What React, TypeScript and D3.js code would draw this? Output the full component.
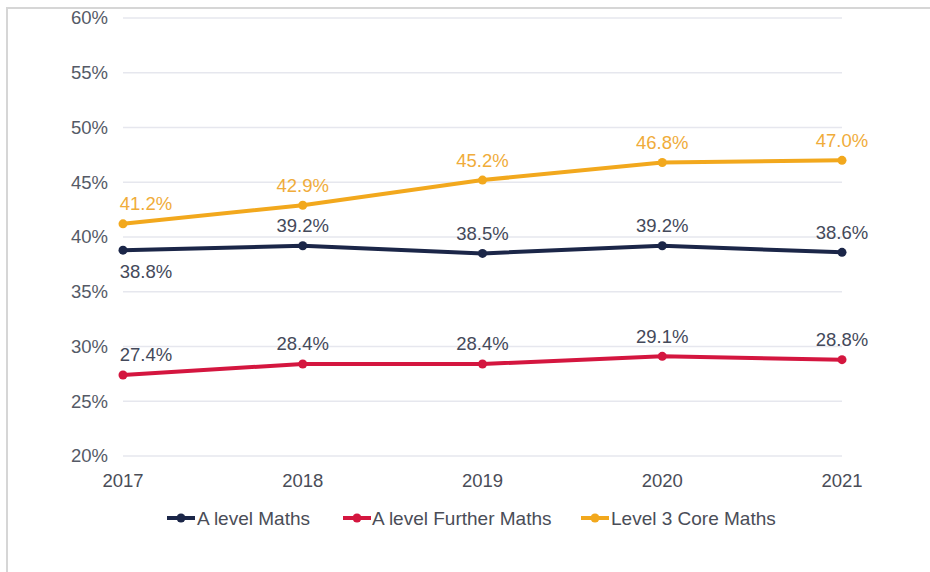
import React from "react";
import * as d3 from "d3";

const years = ["2017", "2018", "2019", "2020", "2021"];
const aLevelMaths = [38.8, 39.2, 38.5, 39.2, 38.6];
const furtherMaths = [27.4, 28.4, 28.4, 29.1, 28.8];
const coreMaths = [41.2, 42.9, 45.2, 46.8, 47.0];
const yTicks = [20, 25, 30, 35, 40, 45, 50, 55, 60];

const W = 930;
const H = 572;
const FONT = "'Liberation Sans', Arial, sans-serif";
const FS = 18.5;
const LFS = 19;

type Series = {
  name: string;
  values: number[];
  color: string;
  labelColor: string;
  below: boolean[];
};

const series: Series[] = [
  { name: "A level Maths", values: aLevelMaths, color: "#1b2648", labelColor: "#44495a", below: [true, false, false, false, false] },
  { name: "A level Further Maths", values: furtherMaths, color: "#d4163f", labelColor: "#44495a", below: [false, false, false, false, false] },
  { name: "Level 3 Core Maths", values: coreMaths, color: "#f2a81d", labelColor: "#f0ac3a", below: [false, false, false, false, false] },
];

export default function App() {
  const x = d3.scalePoint<string>().domain(years).range([123, 842]);
  const y = d3.scaleLinear().domain([20, 60]).range([456, 18]);
  const line = d3
    .line<number>()
    .x((_, i) => x(years[i]) as number)
    .y((d) => y(d));

  const legendItems = [
    { s: series[0], mx: 167, tx: 197 },
    { s: series[1], mx: 343, tx: 372 },
    { s: series[2], mx: 581, tx: 611 },
  ];

  return (
    <div style={{ position: "fixed", left: 0, top: 0 }}>
      <svg width={W} height={H} style={{ display: "block", background: "#fff" }}>
        <rect x={7} y={8} width={1000} height={1000} fill="#fff" stroke="#d6d6d6" strokeWidth={2} />
        {yTicks.map((t) => (
          <g key={t}>
            <line x1={123} x2={842} y1={y(t)} y2={y(t)} stroke="#e6e7ee" strokeWidth={1.5} />
            <text x={108} y={y(t)} dy="0.35em" textAnchor="end" fontFamily={FONT} fontSize={FS} fill="#555a66">
              {t}%
            </text>
          </g>
        ))}
        {years.map((yr) => (
          <text key={yr} x={x(yr)} y={481} dy="0.35em" textAnchor="middle" fontFamily={FONT} fontSize={FS} fill="#4a4d57">
            {yr}
          </text>
        ))}
        {series.map((s) => (
          <g key={s.name}>
            <path d={line(s.values) || ""} fill="none" stroke={s.color} strokeWidth={4} strokeLinejoin="round" />
            {s.values.map((v, i) => (
              <circle key={i} cx={x(years[i])} cy={y(v)} r={4.5} fill={s.color} />
            ))}
            {s.values.map((v, i) => {
              const px = (x(years[i]) as number) + (i === 0 ? 23 : 0);
              const py = y(v) + (s.below[i] ? 21 : -20);
              return (
                <text key={"l" + i} x={px} y={py} dy="0.35em" textAnchor="middle" fontFamily={FONT} fontSize={FS} fill={s.labelColor}>
                  {v.toFixed(1)}%
                </text>
              );
            })}
          </g>
        ))}
        {legendItems.map(({ s, mx, tx }) => (
          <g key={s.name}>
            <line x1={mx} x2={mx + 28} y1={518} y2={518} stroke={s.color} strokeWidth={4} />
            <circle cx={mx + 14} cy={518} r={4.5} fill={s.color} />
            <text x={tx} y={518} dy="0.35em" fontFamily={FONT} fontSize={LFS} fill="#4a4d57">
              {s.name}
            </text>
          </g>
        ))}
      </svg>
    </div>
  );
}
